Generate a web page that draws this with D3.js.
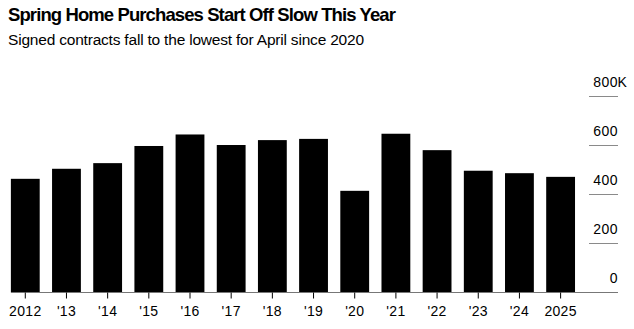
<!DOCTYPE html>
<html>
<head>
<meta charset="utf-8">
<script src="https://cdn.jsdelivr.net/npm/d3@7"></script>
<style>
  body { margin: 0; background: #fff; }
  text { font-family: "Liberation Sans", Arial, sans-serif; }
</style>
</head>
<body>
<div id="chart"></div>
<script>
// pending home sales, April of each year (thousands)
const years = ['2012', "'13", "'14", "'15", "'16", "'17", "'18", "'19", "'20", "'21", "'22", "'23", "'24", '2025'];
const contracts = [464, 505, 528, 598, 645, 602, 622, 627, 415, 648, 581, 497, 487, 472];
const yTicks = [0, 200, 400, 600, 800];

const width = 634, height = 329;

const svg = d3.select('#chart')
  .append('svg')
  .attr('width', width)
  .attr('height', height);

svg.append('text')
  .attr('x', 8).attr('y', 20.5)
  .attr('font-size', 18.5).attr('font-weight', 'bold')
  .attr('letter-spacing', -0.9)
  .attr('fill', '#000')
  .text('Spring Home Purchases Start Off Slow This Year');

svg.append('text')
  .attr('x', 8).attr('y', 45)
  .attr('font-size', 15.5)
  .attr('letter-spacing', -0.2)
  .attr('fill', '#000')
  .text('Signed contracts fall to the lowest for April since 2020');

const x = d3.scaleBand()
  .domain(years)
  .range([4.7, 581.2])
  .paddingInner(0.3)
  .paddingOuter(0.15);

const y = d3.scaleLinear()
  .domain([0, 800])
  .range([292.5, 96.5]);

// gridlines + labels on the right
const grid = svg.append('g');
grid.selectAll('line')
  .data(yTicks.filter(d => d > 0))
  .enter()
  .append('line')
  .attr('x1', 589).attr('x2', 618)
  .attr('y1', d => y(d)).attr('y2', d => y(d))
  .attr('stroke', '#8a8a8a')
  .attr('stroke-width', 1);

grid.selectAll('text')
  .data(yTicks)
  .enter()
  .append('text')
  .attr('x', 618)
  .attr('y', d => y(d) - 9.5)
  .attr('text-anchor', 'end')
  .attr('font-size', 14)
  .attr('letter-spacing', 0.5)
  .attr('fill', '#000')
  .text(d => d);

// "K" suffix hangs past the label column
svg.append('text')
  .attr('x', 617.5)
  .attr('y', y(800) - 9.5)
  .attr('font-size', 14)
  .attr('fill', '#000')
  .text('K');

svg.append('g')
  .selectAll('rect')
  .data(contracts)
  .enter()
  .append('rect')
  .attr('x', (d, i) => x(years[i]))
  .attr('width', x.bandwidth())
  .attr('y', d => y(d))
  .attr('height', d => y(0) - y(d))
  .attr('fill', '#000');

// baseline
svg.append('line')
  .attr('x1', 11).attr('x2', 618)
  .attr('y1', y(0)).attr('y2', y(0))
  .attr('stroke', '#777')
  .attr('stroke-width', 1);

const xAxis = svg.append('g')
  .attr('transform', `translate(0,${y(0)})`)
  .call(d3.axisBottom(x).tickSize(6).tickPadding(8));
xAxis.select('.domain').remove();
xAxis.selectAll('.tick line').attr('stroke', '#000');
xAxis.selectAll('.tick text')
  .attr('font-size', 14)
  .attr('letter-spacing', 0.3)
  .attr('font-family', '"Liberation Sans", Arial, sans-serif')
  .attr('fill', '#000');
</script>
</body>
</html>
